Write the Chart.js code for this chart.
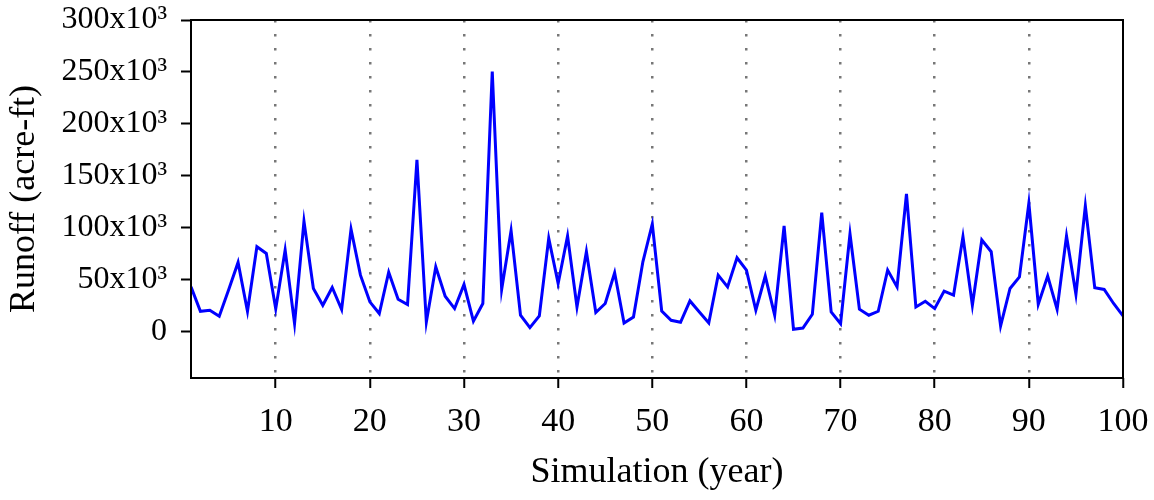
<!DOCTYPE html>
<html>
<head>
<meta charset="utf-8">
<script src="https://cdn.jsdelivr.net/npm/chart.js@4/dist/chart.umd.min.js"></script>
<style>
  body { margin: 0; background: #fff; }
  #wrap { width: 1154px; height: 500px; }
</style>
</head>
<body>
<div id="wrap"><canvas id="runoffChart"></canvas></div>
<script>
const years = [
    1, 2, 3, 4, 5, 6, 7, 8, 9, 10,
    11, 12, 13, 14, 15, 16, 17, 18, 19, 20,
    21, 22, 23, 24, 25, 26, 27, 28, 29, 30,
    31, 32, 33, 34, 35, 36, 37, 38, 39, 40,
    41, 42, 43, 44, 45, 46, 47, 48, 49, 50,
    51, 52, 53, 54, 55, 56, 57, 58, 59, 60,
    61, 62, 63, 64, 65, 66, 67, 68, 69, 70,
    71, 72, 73, 74, 75, 76, 77, 78, 79, 80,
    81, 82, 83, 84, 85, 86, 87, 88, 89, 90,
    91, 92, 93, 94, 95, 96, 97, 98, 99, 100
];

// runoff per simulated year, acre-ft
const runoff = [
    42800, 19300, 20300, 14500, 40000, 66400, 19300, 81500, 75000, 21600,
    78300, 7400, 106000, 41300, 25100, 42200, 21000, 98300, 54100, 28400,
    17100, 57000, 30900, 25800, 165300, 9000, 62200, 33800, 21900, 45100,
    9700, 26800, 250400, 40300, 97000, 15500, 3500, 14800, 89600, 46100,
    91800, 23500, 76700, 18100, 26800, 56400, 8000, 13800, 67000, 103400,
    19600, 10600, 8700, 29300, 18700, 8000, 54100, 42800, 70900, 59000,
    20300, 53200, 15500, 101500, 1900, 3200, 16400, 114400, 18700, 7400,
    93800, 21300, 15500, 19300, 59000, 42800, 132500, 23500, 29000, 21900,
    38700, 34800, 91200, 25100, 88000, 76700, 5200, 41300, 52500, 123400,
    26100, 53200, 21300, 91800, 35500, 120900, 41900, 40300, 26800, 14800
];

const xTicks = [10, 20, 30, 40, 50, 60, 70, 80, 90, 100];
const yTicks = [0, 50000, 100000, 150000, 200000, 250000, 300000];

const serif = "'Liberation Serif', 'Times New Roman', serif";

const points = years.map((yr, i) => ({ x: yr, y: runoff[i] }));

// solid box round the plot area
const frame = {
    id: 'frame',
    afterDatasetsDraw(chart) {
        const a = chart.chartArea;
        const ctx = chart.ctx;
        ctx.save();
        ctx.strokeStyle = '#000';
        ctx.lineWidth = 2;
        ctx.strokeRect(a.left, a.top, a.right - a.left, a.bottom - a.top);
        ctx.restore();
    }
};

// drop the label overflow padding so the layout padding alone places the plot
function noOverflow(scale) {
    scale.paddingTop = 0;
    scale.paddingBottom = 0;
    scale.paddingLeft = 0;
    scale.paddingRight = 0;
}

const config = {
    type: 'line',
    data: {
        datasets: [{
            label: 'Runoff',
            data: points,
            borderColor: '#0000ff',
            borderWidth: 3,
            pointRadius: 0,
            tension: 0,
            fill: false
        }]
    },
    options: {
        responsive: true,
        maintainAspectRatio: false,
        animation: false,
        layout: { padding: { left: 0, top: 20, right: 31, bottom: 6 } },
        plugins: {
            legend: { display: false },
            tooltip: { enabled: false }
        },
        scales: {
            x: {
                type: 'linear',
                min: 1,
                max: 100,
                afterBuildTicks: (scale) => { scale.ticks = xTicks.map(v => ({ value: v })); },
                afterFit: (scale) => { scale.height = 116; noOverflow(scale); },
                border: { display: false, dash: [2.5, 11.5] },
                grid: {
                    color: (c) => c.tick && c.tick.value === 100 ? 'rgba(0,0,0,0)' : '#777',
                    lineWidth: 2.5,
                    tickColor: '#000',
                    tickLength: 10,
                    tickWidth: 2
                },
                ticks: {
                    color: '#000',
                    font: { family: serif, size: 34 },
                    padding: 14,
                    maxRotation: 0,
                    callback: (v) => v
                },
                title: {
                    display: true,
                    text: 'Simulation (year)',
                    color: '#000',
                    font: { family: serif, size: 36 },
                    padding: { top: 0, bottom: 0 }
                }
            },
            y: {
                min: -45000,
                max: 300000,
                afterBuildTicks: (scale) => { scale.ticks = yTicks.map(v => ({ value: v })); },
                afterFit: (scale) => { scale.width = 191; noOverflow(scale); },
                border: { display: false },
                grid: {
                    drawOnChartArea: false,
                    tickColor: '#000',
                    tickLength: 10,
                    tickWidth: 2
                },
                ticks: {
                    color: '#000',
                    font: { family: serif, size: 32 },
                    padding: 14,
                    callback: (v) => v === 0 ? '0' : (v / 1000) + 'x10\u00B3'
                },
                title: {
                    display: true,
                    text: 'Runoff (acre-ft)',
                    color: '#000',
                    font: { family: serif, size: 36 },
                    padding: { top: 3, bottom: 0 }
                }
            }
        }
    },
    plugins: [frame]
};

const runoffChart = new Chart(document.getElementById('runoffChart'), config);
</script>
</body>
</html>
